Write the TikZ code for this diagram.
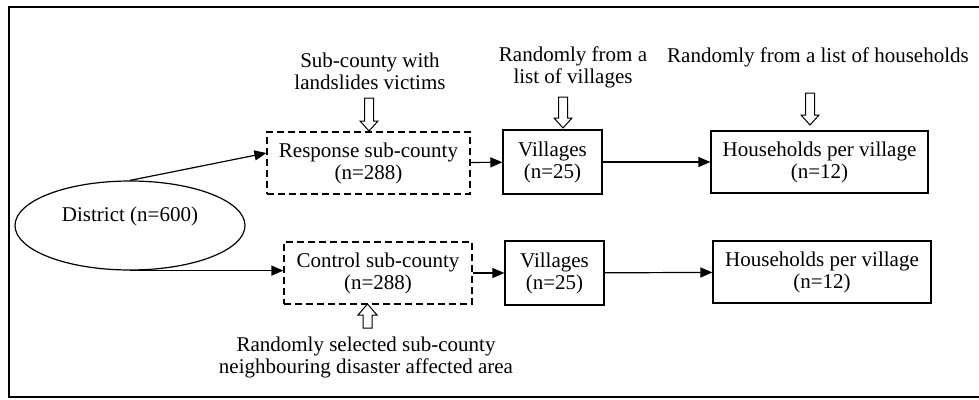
\documentclass[tikz,border=0pt]{standalone}
\usepackage{fontspec}
\setmainfont{Liberation Serif}
\usetikzlibrary{arrows.meta, positioning, shapes.geometric}
\tikzset{
  box/.style={draw, line width=1.2pt, inner sep=0pt, align=center, minimum height=62pt},
  dbox/.style={box, dash pattern=on 7pt off 4pt},
  arr/.style={-{Triangle[length=12pt,width=10pt]}, line width=1.2pt},
  hollow/.style={draw, fill=white, line width=1pt}
}

\begin{document}
\begin{tikzpicture}[x=1pt, y=-1pt, font=\fontsize{21}{22}\selectfont]
  \useasboundingbox (0,0) rectangle (979,399);
  \draw[line width=1.3pt] (990,7) -| (9,397) -- (990,397);

  % sampling stages
  \node[ellipse, draw, line width=1.2pt, minimum width=230pt, minimum height=89pt,
        inner sep=0pt, text height=14pt, text depth=22pt] (dist) at (130,225.5) {District (n=600)};
  \node[dbox, minimum width=203pt] (resp) at (368.5,163) {Response sub-county\\(n=288)};
  \node[dbox, minimum width=188pt] (ctrl) at (378,273) {Control sub-county\\(n=288)};
  \node[box, minimum width=99pt, minimum height=64pt] (vila) at (552.5,162) {Villages\\(n=25)};
  \node[box, minimum width=99pt, minimum height=64pt] (vilb) at (554.5,273) {Villages\\(n=25)};
  \node[box, minimum width=217pt] (hha) at (819.5,162) {Households per village\\(n=12)};
  \node[box, minimum width=218pt] (hhb) at (822,272) {Households per village\\(n=12)};

  % selection criteria
  \node[align=center] (lbsub) at (370,71) {Sub-county with\\landslides victims};
  \node[align=center] (lbvil) at (573,67) {Randomly from a\\list of villages};
  \node (lbhh) at (818,57) {Randomly from a list of households};
  \node[align=center] (lbctrl) at (366,357) {Randomly selected sub-county\\neighbouring disaster affected area};

  \draw[arr] (dist.north) -- ([yshift=10pt]resp.west);
  \draw[arr] (dist.south) -- (dist.south -| ctrl.west);
  \draw[arr] (resp) -- (vila);
  \draw[arr] (vila) -- (hha);
  \draw[arr] (ctrl) -- (vilb);
  \draw[arr] (vilb) -- (hhb);

  \foreach \x/\y/\l in {369/131/33, 563/128/31, 810/125/32}
    \draw[hollow, shift={(\x,\y)}] (-4.5,-\l) -- (-4.5,-10) -- (-9,-10) -- (0,0)
      -- (9,-10) -- (4.5,-10) -- (4.5,-\l) -- cycle;
  \draw[hollow, shift={(367.5,304)}] (-4.5,24) -- (-4.5,11) -- (-9.5,11) -- (0,0)
    -- (9.5,11) -- (4.5,11) -- (4.5,24) -- cycle;
\end{tikzpicture}
\end{document}
